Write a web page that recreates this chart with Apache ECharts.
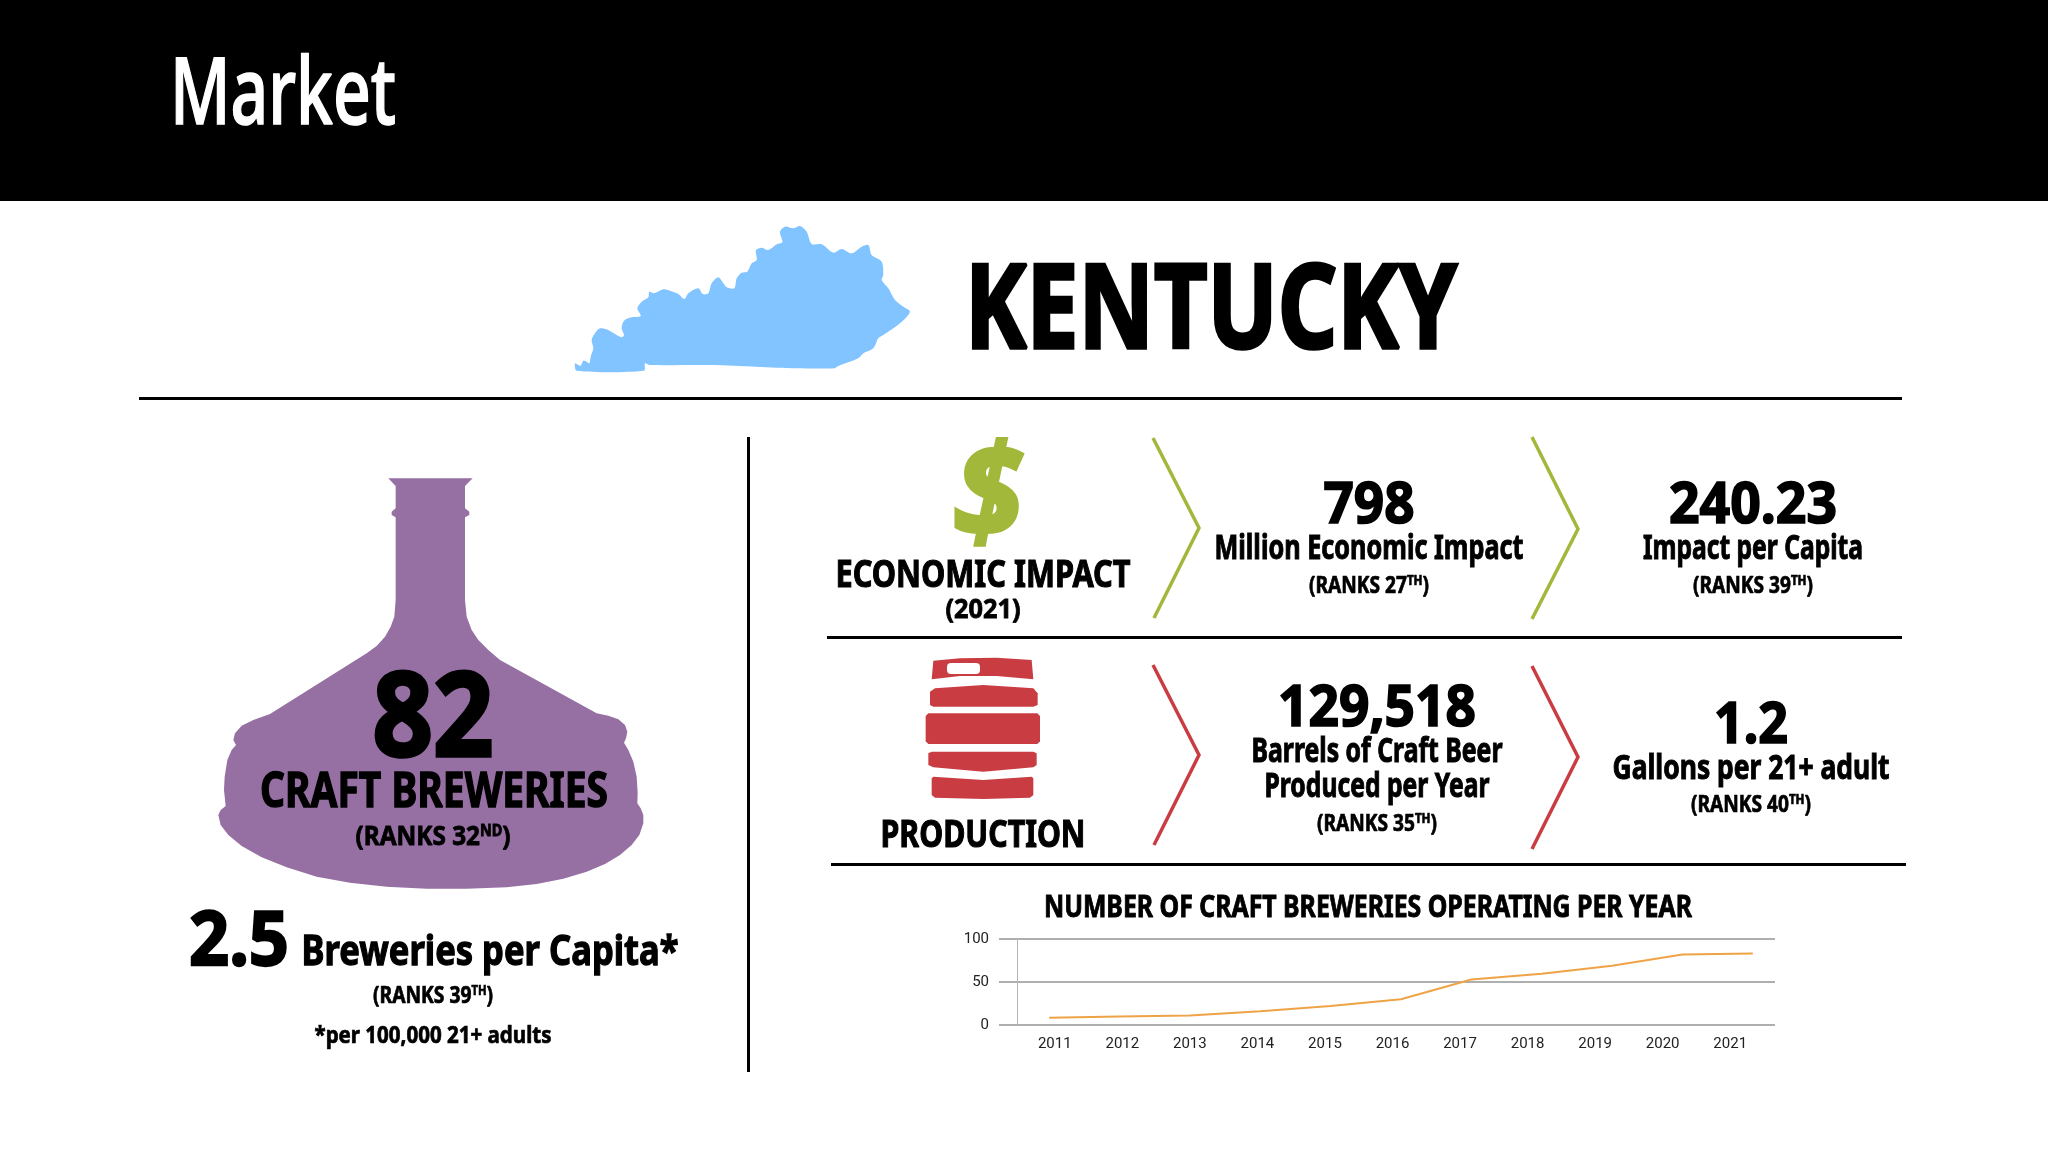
<!DOCTYPE html>
<html><head><meta charset="utf-8">
<style>html,body{margin:0;padding:0;background:#fff}#c{width:2048px;height:1152px}</style>
<script src="https://cdn.jsdelivr.net/npm/echarts@6/dist/echarts.min.js"></script>
</head><body><div id="c"></div>
<script>
const years = ['2011','2012','2013','2014','2015','2016','2017','2018','2019','2020','2021'];
const breweries = [8.5,10,11,16,22,30,53,59.5,69,82,83];
const yTicks = [0,50,100];

const FONT = '"Noto Sans"';
const NARROW = '"Liberation Sans Narrow","Roboto"';
const INK = '#000';
const GREEN = '#A2B83A', RED = '#C93C42', PURPLE = '#966FA3', BLUE = '#82C4FF';

const kentuckyOutline = [[75,490],[85,495],[92,497],[100,482],[110,485],[118,490],[122,470],[130,445],[125,420],[135,400],[150,385],[170,388],[195,402],[215,412],[222,405],[215,385],[222,362],[245,352],[272,348],[262,325],[275,305],[295,292],[298,275],[312,280],[340,268],[360,272],[385,282],[403,297],[415,280],[445,265],[458,282],[475,280],[485,250],[505,232],[520,250],[530,262],[553,265],[560,235],[575,218],[592,215],[605,190],[620,180],[618,150],[635,143],[655,150],[680,133],[697,127],[690,95],[705,80],[730,85],[750,78],[770,95],[785,132],[815,133],[850,158],[875,147],[905,160],[935,140],[955,135],[965,165],[995,185],[1000,225],[995,240],[1015,265],[1035,300],[1060,320],[1080,335],[1050,370],[1000,405],[985,415],[970,445],[940,460],[925,475],[860,500],[855,505],[740,505],[620,500],[480,495],[300,495],[285,490],[282,512],[80,512]];
const vesselOutline = [[565,55],[818,55],[795,78],[795,145],[808,155],[808,165],[795,172],[795,420],[800,470],[815,510],[835,540],[865,570],[900,600],[1190,760],[1225,767],[1255,778],[1275,795],[1282,815],[1278,835],[1272,848],[1285,870],[1300,905],[1310,950],[1313,1000],[1312,1030],[1322,1045],[1330,1065],[1330,1090],[1318,1125],[1295,1155],[1260,1185],[1215,1212],[1160,1235],[1090,1256],[1010,1272],[920,1282],[800,1286],[680,1286],[560,1280],[450,1268],[350,1250],[260,1222],[185,1192],[125,1158],[85,1125],[62,1095],[55,1065],[62,1050],[77,1038],[72,990],[74,950],[82,900],[95,870],[108,855],[100,840],[105,820],[125,797],[160,780],[210,762],[500,580],[530,558],[555,530],[572,500],[583,470],[587,420],[587,172],[575,165],[575,155],[587,145],[587,78]];
const kegBands = [
 [[335,748],[340,692],[420,685],[530,683],[635,690],[640,748],[530,738],[420,738]],
 [[330,785],[345,775],[490,765],[640,775],[653,790],[653,825],[640,830],[340,830],[330,825]],
 [[317,858],[325,850],[652,850],[660,858],[660,934],[652,942],[325,942],[317,934]],
 [[325,970],[335,965],[640,965],[650,970],[650,1005],[640,1012],[490,1025],[340,1012],[325,1005]],
 [[335,1045],[340,1040],[490,1050],[635,1040],[640,1045],[640,1095],[630,1103],[490,1107],[345,1103],[335,1095]]
];

const ctx = document.createElement('canvas').getContext('2d');
function measure(str, fs, w) { ctx.font = `${w} ${fs}px ${FONT}`; return ctx.measureText(str).width; }
function txt(str, cx, y, fs, width, opt) {
  opt = opt || {};
  const weight = opt.weight || 'bold';
  const fill = opt.fill || INK;
  const heavy = opt.heavy === undefined ? fs * 0.03 : opt.heavy;
  let natural, text = str, rich;
  if (opt.sup) {
    const sfs = Math.round(fs * 0.6);
    natural = measure(str + ')', fs, weight) + measure(opt.sup, sfs, weight);
    text = str + '{s|' + opt.sup + '})';
    rich = { s: { fontSize: sfs, fontWeight: weight, fontFamily: FONT, fill: INK, verticalAlign: 'top', lineHeight: fs, padding: [0,0,Math.round(fs*0.35),0] } };
  } else natural = measure(str, fs, weight);
  const style = { text, fill, stroke: fill, lineWidth: heavy, fontFamily: FONT, fontWeight: weight, fontStyle: opt.italic ? 'italic' : 'normal', fontSize: fs, textAlign: 'center', textVerticalAlign: 'middle' };
  if (rich) style.rich = rich;
  return { type: 'text', x: cx, y, scaleX: width / natural, z: 20, style };
}
function rect(x, y, w, h, fill) { return { type: 'rect', z: 5, shape: { x, y, width: w, height: h }, style: { fill } }; }
function poly(points, ox, oy, s, fill, smooth) { return { type: 'polygon', z: 5, shape: { points: points.map(p => [ox + p[0] / s, oy + p[1] / s]), smooth: smooth || 0 }, style: { fill } }; }
function chevron(a, b, c, stroke) { return { type: 'polyline', z: 6, shape: { points: [a, b, c] }, style: { stroke, fill: 'none', lineWidth: 3.5 } }; }

const graphics = [
  rect(0, 0, 2048, 201, '#000'),
  txt('Market', 283, 98, 92, 226, { fill: '#fff', weight: 500, heavy: 1.5 }),
  poly(kentuckyOutline, 550, 200, 3, BLUE, 0.3),
  txt('KENTUCKY', 1211, 315, 116, 492),
  rect(139, 397, 1763, 3, '#000'),
  rect(747, 437, 3, 635, '#000'),
  rect(827, 636, 1075, 3, '#000'),
  rect(831, 863, 1075, 3, '#000'),
  poly(vesselOutline, 200, 460, 3, PURPLE),
  txt('82', 433, 723, 116, 121),
  txt('CRAFT BREWERIES', 434, 793, 48, 348),
  txt('(RANKS 32', 433, 837, 27, 155, { sup: 'ND' }),
  txt('2.5', 239, 943, 76, 100),
  txt('Breweries per Capita*', 490, 953, 42, 377),
  txt('(RANKS 39', 433, 996, 24, 120, { sup: 'TH' }),
  txt('*per 100,000 21+ adults', 433, 1036, 24, 237),
  txt('$', 988, 500, 130, 72, { fill: GREEN, italic: true }),
  txt('ECONOMIC IMPACT', 983, 576, 38, 295),
  txt('(2021)', 983, 610, 27, 75),
  ...kegBands.map(b => poly(b, 820, 430, 3, RED)),
  { type: 'rect', z: 6, shape: { x: 947, y: 663, width: 33, height: 11, r: 4 }, style: { fill: '#fff' } },
  txt('PRODUCTION', 983, 836, 38, 205),
  chevron([1153,438],[1199,528],[1154,618], GREEN),
  chevron([1532,437],[1578,529],[1532,619], GREEN),
  chevron([1153,665],[1199,755],[1154,845], RED),
  chevron([1532,666],[1578,757],[1532,849], RED),
  txt('798', 1369, 506, 58, 91),
  txt('Million Economic Impact', 1369, 549, 34, 309),
  txt('(RANKS 27', 1369, 586, 23, 120, { sup: 'TH' }),
  txt('240.23', 1753, 506, 58, 168),
  txt('Impact per Capita', 1753, 549, 34, 220),
  txt('(RANKS 39', 1753, 586, 23, 120, { sup: 'TH' }),
  txt('129,518', 1377, 709, 58, 198),
  txt('Barrels of Craft Beer', 1377, 752, 34, 251),
  txt('Produced per Year', 1377, 787, 34, 225),
  txt('(RANKS 35', 1377, 824, 23, 120, { sup: 'TH' }),
  txt('1.2', 1751, 726, 58, 74),
  txt('Gallons per 21+ adult', 1751, 769, 34, 277),
  txt('(RANKS 40', 1751, 805, 23, 120, { sup: 'TH' }),
  txt('NUMBER OF CRAFT BREWERIES OPERATING PER YEAR', 1368, 908, 31, 648)
];

const chart = echarts.init(document.getElementById('c'), null, { renderer: 'canvas' });
const TOP = 939, H = 86;
chart.setOption({
  animation: false,
  backgroundColor: '#fff',
  graphic: { elements: graphics },
  grid: [
    { left: 1017, width: 758, top: TOP, height: H },
    { left: 1021, width: 743, top: TOP, height: H },
    { left: 1014, width: 774, top: TOP, height: H }
  ],
  xAxis: [
    { gridIndex: 0, type: 'category', data: years, show: false },
    { gridIndex: 1, type: 'category', data: years, axisLine: { show: false }, axisTick: { show: false },
      axisLabel: { margin: 12, fontFamily: NARROW, fontSize: 15, color: '#222', interval: 0 } },
    { gridIndex: 2, type: 'category', data: years, show: false }
  ],
  yAxis: [
    { gridIndex: 0, type: 'value', min: 0, max: 100, interval: 50,
      axisLine: { show: true, lineStyle: { color: '#B5B5B5', width: 1 } },
      axisTick: { show: true, length: 18, lineStyle: { color: '#AFAFAF', width: 2 } },
      splitLine: { show: true, lineStyle: { color: '#AFAFAF', width: 2 } },
      axisLabel: { margin: 28, fontFamily: NARROW, fontSize: 15, color: '#222',
        formatter: v => yTicks.includes(v) ? String(v) : '' } },
    { gridIndex: 1, type: 'value', min: 0, max: 100, show: false },
    { gridIndex: 2, type: 'value', min: 0, max: 100, show: false }
  ],
  series: [{
    type: 'line', xAxisIndex: 2, yAxisIndex: 2, data: breweries, showSymbol: false, symbol: 'none',
    lineStyle: { color: '#EFA347', width: 2 }, itemStyle: { color: '#EFA347' }, smooth: false
  }]
});
</script></body></html>
